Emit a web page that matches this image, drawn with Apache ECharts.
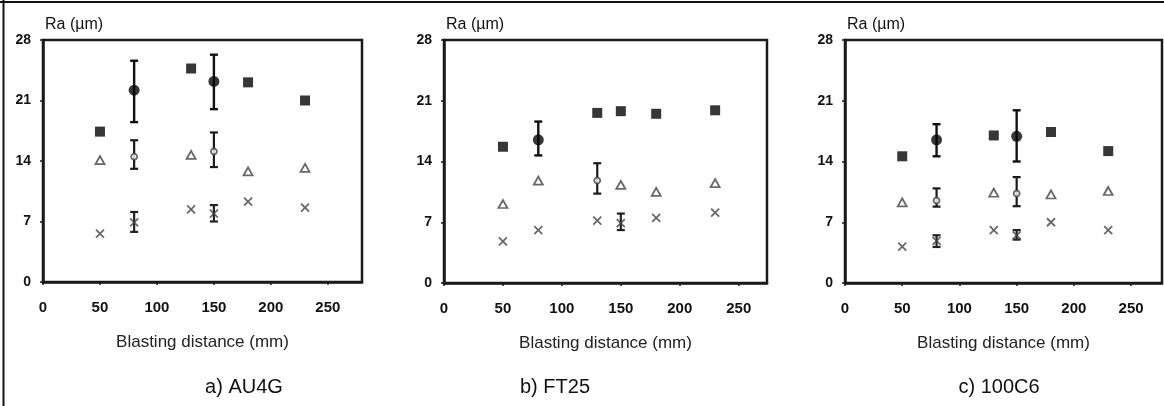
<!DOCTYPE html>
<html>
<head>
<meta charset="utf-8">
<script src="https://cdn.jsdelivr.net/npm/echarts@6/dist/echarts.min.js"></script>
<style>
html,body{margin:0;padding:0;background:#fff;}
#chart{width:1164px;height:406px;}
</style>
</head>
<body>
<div id="chart"></div>
<script>
// ---- data ----
const distances = [50, 80, 130, 150, 180, 230];
const xTickLabels = [0, 50, 100, 150, 200, 250];
const yTickLabels = [0, 7, 14, 21, 28];
const panelTitles = ['a) AU4G', 'b) FT25', 'c) 100C6'];
const xAxisTitle = 'Blasting distance (mm)';
const yAxisTitle = 'Ra (µm)';

// a) AU4G
const au4gSquare      = [17.4, 22.2, 24.7, 23.2, 23.1, 21.0];
const au4gSquareLow   = [null, 18.5, null, 20.0, null, null];
const au4gSquareHigh  = [null, 25.6, null, 26.3, null, null];
const au4gTriangle     = [14.1, 14.5, 14.7, 15.1, 12.8, 13.2];
const au4gTriangleLow  = [null, 13.1, null, 13.3, null, null];
const au4gTriangleHigh = [null, 16.4, null, 17.3, null, null];
const au4gCross     = [5.6, 6.9, 8.4, 7.9, 9.3, 8.6];
const au4gCrossLow  = [null, 5.8, null, 7.0, null, null];
const au4gCrossHigh = [null, 8.1, null, 8.9, null, null];

// b) FT25
const ft25Square      = [15.7, 16.5, 19.6, 19.8, 19.5, 19.9];
const ft25SquareLow   = [null, 14.7, null, null, null, null];
const ft25SquareHigh  = [null, 18.6, null, null, null, null];
const ft25Triangle     = [9.1, 11.8, 11.8, 11.3, 10.5, 11.5];
const ft25TriangleLow  = [null, null, 10.3, null, null, null];
const ft25TriangleHigh = [null, null, 13.8, null, null, null];
const ft25Cross     = [4.8, 6.1, 7.2, 6.9, 7.5, 8.1];
const ft25CrossLow  = [null, null, null, 6.1, null, null];
const ft25CrossHigh = [null, null, null, 8.0, null, null];

// c) 100C6
const c6Square      = [14.6, 16.5, 17.0, 16.9, 17.4, 15.2];
const c6SquareLow   = [null, 14.6, null, 14.0, null, null];
const c6SquareHigh  = [null, 18.3, null, 19.9, null, null];
const c6Triangle     = [9.3, 9.5, 10.4, 10.3, 10.2, 10.6];
const c6TriangleLow  = [null, 8.8, null, 8.85, null, null];
const c6TriangleHigh = [null, 10.9, null, 12.2, null, null];
const c6Cross     = [4.2, 4.85, 6.1, 5.5, 7.0, 6.1];
const c6CrossLow  = [null, 4.15, null, 5.0, null, null];
const c6CrossHigh = [null, 5.5, null, 6.1, null, null];

const panelsData = [
  {sq: au4gSquare, sqL: au4gSquareLow, sqH: au4gSquareHigh, tr: au4gTriangle, trL: au4gTriangleLow, trH: au4gTriangleHigh, cr: au4gCross, crL: au4gCrossLow, crH: au4gCrossHigh},
  {sq: ft25Square, sqL: ft25SquareLow, sqH: ft25SquareHigh, tr: ft25Triangle, trL: ft25TriangleLow, trH: ft25TriangleHigh, cr: ft25Cross, crL: ft25CrossLow, crH: ft25CrossHigh},
  {sq: c6Square, sqL: c6SquareLow, sqH: c6SquareHigh, tr: c6Triangle, trL: c6TriangleLow, trH: c6TriangleHigh, cr: c6Cross, crL: c6CrossLow, crH: c6CrossHigh}
];

// ---- layout (not data) ----
const grids = [
  {left: 43,  top: 40, width: 319, height: 242, xMax: 280, titleX: 244},
  {left: 444, top: 40, width: 323, height: 243, xMax: 274, titleX: 555},
  {left: 845, top: 40, width: 317, height: 243, xMax: 277, titleX: 999}
];
const FONT = '"Liberation Sans", Arial, sans-serif';
const INK = '#111';
const GRAYINK = '#444';
const crossPath = 'path://M0,0L10,10M10,0L0,10';

function errData(low, high) {
  const out = [];
  distances.forEach((d, i) => { if (low[i] != null) out.push([d, low[i], high[i]]); });
  return out;
}
function errSeries(idx, low, high, color, lw, capHalf) {
  return {
    type: 'custom', xAxisIndex: idx, yAxisIndex: idx, z: 2, silent: true,
    data: errData(low, high),
    renderItem: function (params, api) {
      const lo = api.coord([api.value(0), api.value(1)]);
      const hi = api.coord([api.value(0), api.value(2)]);
      const st = {stroke: color, lineWidth: lw};
      return {type: 'group', children: [
        {type: 'line', shape: {x1: lo[0], y1: lo[1], x2: hi[0], y2: hi[1]}, style: st},
        {type: 'line', shape: {x1: lo[0]-capHalf, y1: lo[1], x2: lo[0]+capHalf, y2: lo[1]}, style: st},
        {type: 'line', shape: {x1: hi[0]-capHalf, y1: hi[1], x2: hi[0]+capHalf, y2: hi[1]}, style: st}
      ]};
    }
  };
}

const option = {
  backgroundColor: '#ffffff',
  animation: false,
  grid: [], xAxis: [], yAxis: [], series: [],
  graphic: [
    {type: 'line', shape: {x1: 0, y1: 2, x2: 1164, y2: 2}, style: {stroke: '#111', lineWidth: 2}},
    {type: 'line', shape: {x1: 3.5, y1: 0, x2: 3.5, y2: 406}, style: {stroke: '#111', lineWidth: 2}}
  ]
};

grids.forEach((g, idx) => {
  const p = panelsData[idx];
  option.grid.push({left: g.left, top: g.top, width: g.width, height: g.height,
    show: true, borderColor: '#1a1a1a', borderWidth: 2.5, backgroundColor: 'transparent'});
  option.xAxis.push({
    type: 'value', gridIndex: idx, min: 0, max: g.xMax, interval: 50,
    name: xAxisTitle, nameLocation: 'middle', nameGap: 52,
    nameTextStyle: {fontFamily: FONT, fontSize: 17, color: '#222'},
    axisLine: {show: true, lineStyle: {color: '#1a1a1a', width: 2.5}},
    axisTick: {show: true, length: 3, lineStyle: {color: '#1a1a1a', width: 1.5}},
    axisLabel: {fontFamily: FONT, fontSize: 15, fontWeight: 'bold', color: INK, margin: 18,
      showMaxLabel: false,
      formatter: v => (xTickLabels.indexOf(v) >= 0 ? String(v) : '')},
    splitLine: {show: false}
  });
  option.yAxis.push({
    type: 'value', gridIndex: idx, min: 0, max: 28, interval: 7,
    name: yAxisTitle, nameLocation: 'end', nameGap: 7,
    nameTextStyle: {fontFamily: FONT, fontSize: 16, color: INK, align: 'left', padding: [0, 0, 0, 2]},
    axisLine: {show: true, lineStyle: {color: '#1a1a1a', width: 2.5}},
    axisTick: {show: true, length: 3, lineStyle: {color: '#1a1a1a', width: 1.5}},
    axisLabel: {fontFamily: FONT, fontSize: 14, fontWeight: 'bold', color: INK, margin: 12,
      formatter: v => (yTickLabels.indexOf(v) >= 0 ? String(v) : '')},
    splitLine: {show: false}
  });

  // error bars
  option.series.push(errSeries(idx, p.sqL, p.sqH, '#111', 2.4, 4));
  option.series.push(errSeries(idx, p.trL, p.trH, '#1a1a1a', 2.2, 4));
  option.series.push(errSeries(idx, p.crL, p.crH, '#222', 2.2, 4));

  // squares (filled circle where error bar)
  option.series.push({
    type: 'scatter', xAxisIndex: idx, yAxisIndex: idx, z: 3,
    data: distances.map((d, i) => ({
      value: [d, p.sq[i]],
      symbol: p.sqL[i] != null ? 'circle' : 'rect',
      symbolSize: p.sqL[i] != null ? 11 : 10
    })),
    itemStyle: {color: '#050505'}
  });
  // triangles (open circle where error bar)
  option.series.push({
    type: 'scatter', xAxisIndex: idx, yAxisIndex: idx, z: 3,
    data: distances.map((d, i) => ({
      value: [d, p.tr[i]],
      symbol: p.trL[i] != null ? 'circle' : 'triangle',
      symbolSize: p.trL[i] != null ? 6 : [9, 8]
    })),
    itemStyle: {color: '#ffffff', borderColor: GRAYINK, borderWidth: 1.8}
  });
  // crosses
  option.series.push({
    type: 'scatter', xAxisIndex: idx, yAxisIndex: idx, z: 3,
    symbol: crossPath, symbolSize: 8,
    data: distances.map((d, i) => [d, p.cr[i]]),
    itemStyle: {color: 'transparent', borderColor: GRAYINK, borderWidth: 1.8}
  });

  option.graphic.push({
    type: 'text', x: g.titleX, y: 387,
    style: {text: panelTitles[idx], font: '20px ' + FONT, fill: INK, align: 'center', verticalAlign: 'middle'}
  });
});

const chart = echarts.init(document.getElementById('chart'), null, {renderer: 'canvas'});
chart.setOption(option);
</script>
</body>
</html>
